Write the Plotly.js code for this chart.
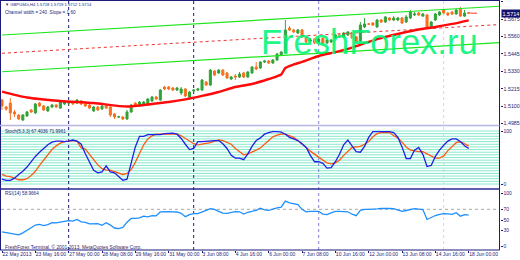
<!DOCTYPE html>
<html><head><meta charset="utf-8">
<script src="https://cdn.plot.ly/plotly-3.0.1.min.js"></script>
<style>html,body{margin:0;padding:0;background:#fff;}#chart{width:520px;height:260px;}</style>
</head><body><div id="chart"></div>
<script>
// ---- data ----
const openP  = [1.5140,1.5094,1.5120,1.5061,1.5041,1.5008,1.5035,1.5074,1.5055,1.5120,1.5101,1.5068,1.5094,1.5107,1.5087,1.5114,1.5120,1.5127,1.5120,1.5134,1.5114,1.5107,1.5068,1.5094,1.5081,1.5101,1.5094,1.5048,1.5028,1.5028,1.5015,1.5061,1.5120,1.5107,1.5114,1.5107,1.5134,1.5160,1.5140,1.5226,1.5226,1.5220,1.5206,1.5187,1.5213,1.5160,1.5200,1.5206,1.5206,1.5259,1.5239,1.5332,1.5319,1.5338,1.5319,1.5279,1.5299,1.5292,1.5319,1.5292,1.5319,1.5358,1.5352,1.5391,1.5398,1.5385,1.5405,1.5438,1.5451,1.5616,1.5603,1.5583,1.5603,1.5557,1.5530,1.5543,1.5524,1.5550,1.5517,1.5524,1.5550,1.5570,1.5557,1.5570,1.5583,1.5557,1.5530,1.5623,1.5643,1.5649,1.5623,1.5669,1.5656,1.5682,1.5669,1.5669,1.5682,1.5656,1.5682,1.5702,1.5715,1.5695,1.5702,1.5623,1.5669,1.5702,1.5735,1.5715,1.5722,1.5709,1.5742,1.5695,1.5718];
const highP  = [1.5147,1.5101,1.5153,1.5074,1.5048,1.5048,1.5068,1.5081,1.5120,1.5127,1.5107,1.5101,1.5114,1.5114,1.5140,1.5134,1.5134,1.5134,1.5147,1.5140,1.5120,1.5114,1.5101,1.5101,1.5107,1.5114,1.5101,1.5055,1.5035,1.5035,1.5074,1.5114,1.5127,1.5134,1.5134,1.5153,1.5167,1.5167,1.5213,1.5233,1.5233,1.5226,1.5226,1.5226,1.5220,1.5200,1.5213,1.5220,1.5279,1.5266,1.5345,1.5338,1.5345,1.5345,1.5325,1.5299,1.5312,1.5325,1.5325,1.5332,1.5365,1.5391,1.5398,1.5405,1.5405,1.5411,1.5451,1.5464,1.5669,1.5629,1.5610,1.5610,1.5610,1.5563,1.5550,1.5550,1.5550,1.5557,1.5543,1.5543,1.5576,1.5576,1.5590,1.5596,1.5590,1.5563,1.5656,1.5682,1.5649,1.5656,1.5676,1.5676,1.5695,1.5689,1.5695,1.5689,1.5689,1.5702,1.5735,1.5722,1.5722,1.5715,1.5709,1.5662,1.5715,1.5728,1.5742,1.5722,1.5728,1.5742,1.5755,1.5735,1.5719];
const lowP   = [1.5074,1.5068,1.5008,1.5028,1.5008,1.5001,1.5028,1.5055,1.5048,1.5094,1.5068,1.5061,1.5087,1.5087,1.5081,1.5107,1.5107,1.5107,1.5114,1.5107,1.5094,1.5081,1.5061,1.5068,1.5074,1.5081,1.5028,1.5015,1.5021,1.5008,1.5008,1.5055,1.5101,1.5101,1.5107,1.5101,1.5127,1.5140,1.5134,1.5206,1.5206,1.5200,1.5200,1.5173,1.5160,1.5153,1.5193,1.5200,1.5200,1.5233,1.5233,1.5299,1.5312,1.5299,1.5279,1.5272,1.5272,1.5286,1.5286,1.5286,1.5312,1.5338,1.5345,1.5385,1.5378,1.5378,1.5398,1.5431,1.5444,1.5596,1.5583,1.5576,1.5550,1.5510,1.5517,1.5510,1.5517,1.5510,1.5510,1.5517,1.5543,1.5550,1.5550,1.5563,1.5543,1.5517,1.5524,1.5616,1.5636,1.5629,1.5616,1.5649,1.5649,1.5662,1.5662,1.5662,1.5643,1.5649,1.5676,1.5695,1.5695,1.5689,1.5616,1.5616,1.5662,1.5695,1.5709,1.5695,1.5702,1.5702,1.5689,1.5689,1.5712];
const closeP = [1.5101,1.5081,1.5055,1.5048,1.5015,1.5041,1.5061,1.5061,1.5114,1.5101,1.5074,1.5094,1.5107,1.5094,1.5127,1.5127,1.5121,1.5114,1.5140,1.5114,1.5101,1.5087,1.5094,1.5074,1.5101,1.5087,1.5041,1.5028,1.5029,1.5015,1.5061,1.5107,1.5107,1.5127,1.5127,1.5147,1.5160,1.5147,1.5206,1.5213,1.5213,1.5206,1.5220,1.5213,1.5167,1.5193,1.5206,1.5213,1.5272,1.5239,1.5338,1.5305,1.5338,1.5305,1.5286,1.5292,1.5292,1.5312,1.5292,1.5325,1.5358,1.5345,1.5391,1.5398,1.5385,1.5405,1.5444,1.5457,1.5603,1.5603,1.5590,1.5603,1.5557,1.5524,1.5537,1.5517,1.5543,1.5517,1.5537,1.5537,1.5570,1.5557,1.5583,1.5590,1.5550,1.5524,1.5636,1.5643,1.5642,1.5636,1.5669,1.5656,1.5689,1.5669,1.5682,1.5682,1.5649,1.5689,1.5722,1.5709,1.5702,1.5709,1.5623,1.5656,1.5709,1.5722,1.5715,1.5702,1.5709,1.5735,1.5695,1.5715,1.5714];

// moving average, read at selected bars
const maBars = [0,6,14,22,30,36,40,44,48,52,56,60,64,67,68,70,72,76,80,84,88,92,96,100,104,108,112];
const maVals = [1.5196,1.5157,1.5134,1.5120,1.5097,1.5114,1.5127,1.5144,1.5167,1.5193,1.5226,1.5246,1.5279,1.5309,1.5352,1.5375,1.5392,1.5431,1.5457,1.5487,1.5524,1.5557,1.5583,1.5606,1.5623,1.5643,1.5667];

// linear channel (bar index of end points and price values)
const chanBars  = [0, 119.4];
const chanUpper = [1.5570, 1.5760];
const chanMid   = [1.5449, 1.5639];
const chanLower = [1.5327, 1.5519];

const stochK = [9,7,7,11,18,24,32,43,52,60,68,74,79,81,81,80,81,83,81,75,57,41,26,21,23,34,23,21,13,7,9,38,70,90,90,93,93,93,93,95,96,96,94,86,75,65,67,80,80,81,82,82,82,76,67,54,49,49,46,57,71,82,87,94,97,99,99,98,94,88,85,82,76,69,54,42,42,39,30,31,42,56,74,83,72,61,60,71,88,99,99,99,99,99,97,88,70,48,48,64,69,56,33,35,52,64,73,81,85,85,80,72,67];
const stochD = [18,15,14,11,8,8,10,16,24,35,45,56,65,72,77,80,81,82,81,68,66,56,45,36,29,26,26,23,21,18,20,27,41,56,74,85,91,94,94,94,94,94,94,91,86,80,76,74,75,77,78,81,83,82,79,75,67,61,55,57,60,64,68,75,83,89,92,94,94,91,88,82,76,69,62,56,50,45,40,38,40,45,54,62,69,70,71,75,80,89,95,97,97,97,91,87,79,70,64,62,61,61,57,53,49,49,53,63,71,78,80,76,72];
const rsiVals = [27.6,26.3,24.9,23.0,22.1,25.8,31.3,35.5,40.5,41.8,39.6,41.4,45.1,44.6,46.0,47.9,48.8,47.9,51.0,46.6,45.5,42.7,42.4,43.3,40.2,44.8,40.5,35.0,33.7,36.0,46.0,52.9,52.9,53.8,57.1,56.0,58.0,57.8,65.4,66.3,65.8,65.2,65.0,62.6,56.2,59.9,62.1,62.1,64.5,68.2,71.1,70.0,66.3,63.0,62.3,64.8,65.8,65.4,61.2,64.5,66.7,68.2,72.2,69.1,68.2,70.9,72.8,74.0,85.3,82.0,80.1,78.8,70.0,65.2,66.3,66.3,66.3,61.2,60.2,63.5,66.3,66.3,66.3,65.4,60.8,58.0,68.2,70.0,70.0,70.0,70.9,71.8,72.2,71.5,71.3,69.4,66.3,67.8,69.6,71.3,70.4,69.6,51.0,54.9,58.4,60.6,61.9,61.5,60.4,63.7,57.1,60.0,59.0];

const stochLevels = [0,5,10,15,20,25,30,35,40,45,50,55,60,65,70,75,80,85,90,95,100];
const rsiLevel = 70;
const weekStartBars = [16, 46, 76, 106];

const timeTickBars   = [0,8,16,24,32,40,48,56,64,72,80,88,96,104,112];
const timeTickLabels = ['22 May 2013','23 May 16:00','27 May 00:00','28 May 08:00','29 May 16:00','31 May 00:00','3 Jun 08:00','4 Jun 16:00','6 Jun 00:00','7 Jun 08:00','10 Jun 16:00','12 Jun 00:00','13 Jun 08:00','14 Jun 16:00','18 Jun 00:00'];
const priceTicks  = [1.5790,1.5675,1.5560,1.5445,1.5330,1.5215,1.5100,1.4985];
const priceLabels = ['1.5790','1.5675','1.5560','1.5445','1.5330','1.5215','1.5100','1.4985'];
const stochTicks = [100, 0];
const rsiTicks = [100, 70, 50, 30, 0];

const symbolTitle = '\u25BC GBPUSDi,H4 1.5718 1.5719 1.5712 1.5714';
const channelTitle = 'Channel width = 240  Slope = 1.60';
const stochTitle = 'Stoch(5,3,3) 67.4036 71.9961';
const rsiTitle = 'RSI(14) 58.9664';
const copyright = 'FreshForex Terminal, \u00A9 2001-2013, MetaQuotes Software Corp.';
const watermark = 'FreshForex.ru';
const lastPrice = 1.5714;
const lastMarkBars = [112.4, 114];

// ---- drawing ----
const W = 520, H = 260;
const NAVY = '#1d1d78';
const px = v => v / W;
const py = v => 1 - v / H;
const bars = openP.map((_, i) => i);

const traces = [
  {type:'scatter', mode:'lines', x:chanBars, y:chanUpper, line:{color:'#1ee61e', width:1.2}, hoverinfo:'skip'},
  {type:'scatter', mode:'lines', x:chanBars, y:chanLower, line:{color:'#1ee61e', width:1.2}, hoverinfo:'skip'},
  {type:'scatter', mode:'lines', x:chanBars, y:chanMid, line:{color:'#ee3333', width:1, dash:'dot'}, hoverinfo:'skip'},
  {type:'scatter', mode:'lines', x:maBars, y:maVals, line:{color:'#ff0a0a', width:2.4, shape:'spline', smoothing:0.6}, hoverinfo:'skip'},
  {type:'candlestick', x:bars, open:openP, high:highP, low:lowP, close:closeP,
   increasing:{line:{color:'#31a33a', width:1}, fillcolor:'#31a33a'},
   decreasing:{line:{color:'#f7711f', width:1}, fillcolor:'#f7711f'},
   whiskerwidth:0, hoverinfo:'skip'},
  {type:'scatter', mode:'lines', x:lastMarkBars, y:[lastPrice, lastPrice], line:{color:'#ff3030', width:1, dash:'dash'}, hoverinfo:'skip'},
  {type:'scatter', mode:'lines', x:bars, y:stochD, xaxis:'x', yaxis:'y2', line:{color:'#ff5a14', width:1.3}, hoverinfo:'skip'},
  {type:'scatter', mode:'lines', x:bars, y:stochK, xaxis:'x', yaxis:'y2', line:{color:'#1f1fe8', width:1.3}, hoverinfo:'skip'},
  {type:'scatter', mode:'lines', x:bars, y:rsiVals, xaxis:'x', yaxis:'y3', line:{color:'#1e8fff', width:1.3}, hoverinfo:'skip'}
];

const shapes = [];
stochLevels.forEach(v => shapes.push({type:'line', xref:'paper', yref:'y2', x0:px(1), x1:px(499.5), y0:v, y1:v, line:{color:'#86e8cc', width:1}, layer:'below'}));
shapes.push({type:'line', xref:'paper', yref:'y3', x0:px(1), x1:px(499.5), y0:rsiLevel, y1:rsiLevel, line:{color:'#a8a8a8', width:1, dash:'dot'}, layer:'below'});
const sepColors = [NAVY, NAVY, '#8080d0', '#d4d4dc'];
weekStartBars.forEach((b, k) => shapes.push({type:'line', xref:'x', yref:'paper', x0:b, x1:b, y0:py(250), y1:1, line:{color:sepColors[k], width:1, dash:'dot'}, layer:'below'}));
// frame
shapes.push({type:'line', xref:'paper', yref:'paper', x0:px(0.5), x1:px(0.5), y0:py(250), y1:1, line:{color:NAVY, width:1}});
shapes.push({type:'line', xref:'paper', yref:'paper', x0:0, x1:px(499.5), y0:py(0.5), y1:py(0.5), line:{color:NAVY, width:1}});
shapes.push({type:'line', xref:'paper', yref:'paper', x0:px(499.5), x1:px(499.5), y0:py(250), y1:1, line:{color:NAVY, width:1}});
shapes.push({type:'line', xref:'paper', yref:'paper', x0:0, x1:px(499.5), y0:py(250), y1:py(250), line:{color:NAVY, width:1}});
shapes.push({type:'line', xref:'paper', yref:'paper', x0:0, x1:px(499.5), y0:py(125.5), y1:py(125.5), line:{color:'#b6b6e4', width:1.5}});
shapes.push({type:'line', xref:'paper', yref:'paper', x0:0, x1:px(499.5), y0:py(189), y1:py(189), line:{color:'#2a2a90', width:1.5}});

const ann = (x, y, text, opts={}) => Object.assign({xref:'paper', yref:'paper', x:px(x), y:py(y), text, showarrow:false, xanchor:'left', yanchor:'middle', font:{size:4.6, color:NAVY}}, opts);
const annotations = [
  ann(3, 4.5, symbolTitle, {font:{size:4.2, color:NAVY}}),
  ann(3, 12, channelTitle),
  ann(3, 131.5, stochTitle),
  ann(3, 193.5, rsiTitle),
  ann(3, 246.5, copyright, {font:{size:4.8, color:'#3a1a5a'}}),
  ann(259, 42, watermark, {font:{size:34.5, color:'rgba(0,245,120,0.9)', family:'Liberation Sans, Arial, sans-serif'}}),
  {xref:'paper', yref:'y', x:px(500.5), y:lastPrice, text:lastPrice.toFixed(4), showarrow:false, xanchor:'left', yanchor:'middle', bgcolor:'#14146e', borderpad:0.5, font:{size:5.5, color:'#ffffff'}}
];

const layout = {
  width:W, height:H, margin:{l:0, r:0, t:0, b:0},
  paper_bgcolor:'#ffffff', plot_bgcolor:'#ffffff', showlegend:false,
  font:{family:'Liberation Sans, Arial, sans-serif', size:5.5, color:NAVY},
  xaxis:{domain:[px(1), px(499.5)], range:[(1-2)/4.167, (499.5-2)/4.167], anchor:'y3',
         tickmode:'array', tickvals:timeTickBars, ticktext:timeTickLabels, tickangle:0, ticks:'outside', ticklen:2, tickcolor:NAVY,
         ticklabelposition:'outside right', ticklabelstandoff:-1, tickfont:{size:5, color:NAVY},
         showgrid:false, zeroline:false, showline:false, rangeslider:{visible:false}, fixedrange:true},
  yaxis:{domain:[py(125.5), py(0.5)], range:[1.58012-0.000661*125.5, 1.58012-0.000661*0.5], side:'right', anchor:'x',
         tickmode:'array', tickvals:priceTicks, ticktext:priceLabels, ticks:'outside', ticklen:2, tickcolor:NAVY,
         tickfont:{size:5.3, color:NAVY}, showgrid:false, zeroline:false, showline:false, fixedrange:true},
  yaxis2:{domain:[py(189), py(126)], range:[-(189-184)/0.53, 100+(131-126)/0.53], side:'right', anchor:'x',
         tickmode:'array', tickvals:stochTicks, ticks:'outside', ticklen:2, tickcolor:NAVY,
         tickfont:{size:5, color:NAVY}, showgrid:false, zeroline:false, showline:false, fixedrange:true},
  yaxis3:{domain:[py(250), py(190)], range:[-(250-246.7)/0.534, 100+(193.3-190)/0.534], side:'right', anchor:'x',
         tickmode:'array', tickvals:rsiTicks, ticks:'outside', ticklen:2, tickcolor:NAVY,
         tickfont:{size:5, color:NAVY}, showgrid:false, zeroline:false, showline:false, fixedrange:true},
  shapes, annotations
};

Plotly.newPlot('chart', traces, layout, {staticPlot:true, displayModeBar:false});
</script></body></html>
